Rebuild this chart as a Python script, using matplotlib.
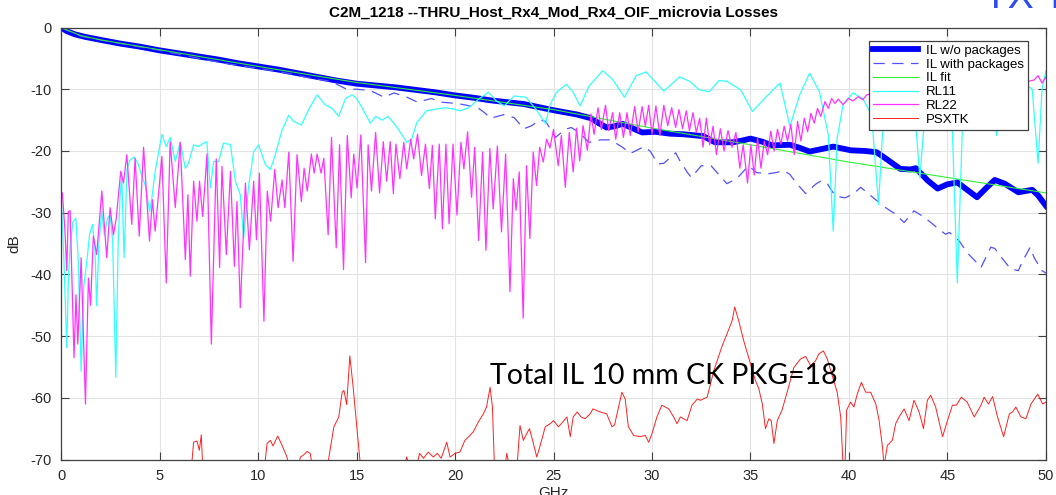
import matplotlib
matplotlib.use("Agg")
import matplotlib.pyplot as plt

plt.rcParams['font.family'] = ['Liberation Sans', 'DejaVu Sans']
plt.rcParams['axes.unicode_minus'] = False

# ---------------- data (GHz, dB) ----------------
# IL w/o packages (thick blue)
il_f = [0, 0.3, 0.7, 1.2, 2, 3, 4, 5, 6, 7, 8, 9, 10, 11, 12, 13, 14, 15, 16, 17, 18, 19,
        20, 21, 21.8, 23.5, 25, 26.2, 26.9, 27.3, 27.7, 28.1, 28.5, 29.0, 29.5, 30.2, 30.9,
        31.6, 32.6, 33.2, 34.1, 34.6, 35, 35.6, 36.1, 37, 37.5, 38, 38.6, 39.2, 40.1, 40.8,
        41.4, 41.9, 42.6, 43.1, 43.4, 44.0, 44.5, 45.0, 45.5, 46.0, 46.5, 47.0, 47.4, 47.9,
        48.6, 49.3, 49.6, 50]
il_db = [0, -0.6, -1.1, -1.5, -2.0, -2.6, -3.1, -3.7, -4.2, -4.7, -5.2, -5.8, -6.3, -6.8,
         -7.4, -8.0, -8.6, -9.1, -9.4, -9.7, -10.1, -10.5, -11.0, -11.4, -11.8, -12.4, -13.4,
         -14.1, -14.7, -15.5, -16.2, -16.0, -15.6, -16.3, -17.0, -16.9, -17.2, -17.3, -17.6,
         -18.6, -18.6, -18.3, -18.0, -18.5, -19.1, -19.0, -19.5, -20.1, -19.7, -19.3, -19.9,
         -20.0, -20.2, -21.3, -22.9, -23.0, -22.8, -24.8, -26.1, -25.4, -25.1, -26.3, -27.5,
         -25.9, -24.7, -25.3, -26.7, -26.3, -27.2, -28.9]

# IL with packages (dashed)
ilp_f = [0, 1, 3, 5, 7, 8.5, 10, 11.5, 12.5, 13.5, 14, 14.5, 15.0, 15.7, 16.4, 16.9, 17.5,
         18.1, 18.8, 19.3, 20.1, 20.6, 21.2, 21.5, 21.8, 22.5, 23.0, 23.5, 23.9, 24.3, 24.6,
         25.1, 25.6, 25.9, 26.3, 26.8, 27.4, 27.9, 28.5, 28.9, 29.6, 29.9, 30.3, 30.6, 31.2,
         31.4, 31.8, 32.0, 32.5, 33.0, 33.3, 33.8, 34.3, 34.9, 35.3, 35.9, 36.3, 36.7, 37.0,
         37.3, 37.8, 38.3, 38.6, 38.9, 39.3, 39.8, 40.2, 40.6, 41.2, 41.7, 42.0, 42.3, 42.8,
         43.3, 43.7, 44.0, 44.5, 44.9, 45.1, 45.6, 46.0, 46.4, 46.7, 47.2, 47.4, 47.8, 48.2,
         48.6, 48.8, 49.2, 49.4, 49.8, 50]
ilp_db = [0, -1.4, -2.6, -3.7, -5.0, -5.9, -6.6, -7.4, -8.1, -8.6, -9.2, -10.0, -10.0, -10.2,
          -11.3, -10.6, -11.2, -12.1, -11.5, -12.1, -12.3, -12.6, -13.1, -13.8, -14.7, -14.1,
          -14.6, -16.4, -15.9, -15.0, -15.2, -17.8, -16.5, -16.2, -17.0, -18.6, -18.2, -18.2,
          -19.4, -20.4, -19.3, -20.0, -22.1, -22.0, -20.3, -21.5, -23.5, -24.3, -22.4, -22.4,
          -23.5, -25.3, -24.5, -22.4, -23.5, -23.7, -23.5, -23.2, -23.8, -25.1, -26.9, -25.4,
          -24.8, -25.3, -27.3, -27.6, -27.0, -25.9, -27.5, -28.8, -29.5, -30.1, -31.6, -29.7,
          -30.5, -31.2, -32.5, -33.5, -33.2, -34.6, -36.5, -37.8, -38.9, -35.6, -35.8, -37.5,
          -39.1, -39.4, -37.9, -35.6, -37.3, -39.4, -39.8]

# IL fit (green)
fit_f = [0, 1, 2, 5, 10, 15, 20, 25, 30, 35, 40, 45, 50]
fit_db = [0, -1.3, -2.0, -3.6, -6.3, -8.9, -11.0, -13.3, -16.3, -19.0, -21.8, -24.3, -26.8]

# RL11 (cyan)
rl11_f = [0, 0.15, 0.29, 0.38, 0.46, 0.6, 0.75, 0.88, 1.02, 1.15, 1.31, 1.45, 1.6, 1.72,
          1.81, 1.92, 2.07, 2.2, 2.35, 2.49, 2.62, 2.78, 2.9, 3.0, 3.08, 3.2, 3.35, 3.5, 3.7,
          3.9, 4.1, 4.27, 4.5, 4.6, 4.78, 5.12, 5.34, 5.54, 5.8, 6.05, 6.31, 6.47, 6.73, 6.98,
          7.2, 7.4, 7.58, 7.75, 8.0, 8.25, 8.6, 8.85, 9.1, 9.27, 9.53, 9.78, 10.03, 10.37,
          10.63, 10.88, 11.2, 11.56, 11.8, 12.2, 12.6, 13.0, 13.4, 13.76, 14.1, 14.44, 14.78,
          15.0, 15.3, 15.7, 15.97, 16.3, 16.6, 17.0, 17.55, 17.8, 18.06, 18.56, 19.07, 19.5,
          19.9, 20.25, 20.7, 21.2, 21.7, 22.1, 22.5, 23.0, 23.6, 24.1, 24.6, 24.8, 25.15,
          25.66, 26.0, 26.35, 26.8, 27.5, 28.0, 28.6, 29.2, 29.7, 30.2, 30.6, 31.4, 31.9,
          32.4, 32.9, 33.4, 33.8, 34.5, 35.1, 35.8, 36.5, 37.0, 37.5, 38.0, 38.5, 38.95,
          39.2, 39.4, 39.7, 40.2, 40.7, 41.15, 41.5, 41.7, 42.0, 42.8, 43.3, 43.6, 43.9,
          44.5, 45.2, 45.5, 45.8, 46.5, 47.2, 47.5, 47.8, 48.5, 49.3, 49.6, 49.8, 50]
rl11_db = [-27, -38, -51.9, -40, -35.7, -31.5, -30.9, -38, -55.7, -42, -37.9, -33.5, -31.9,
           -36, -45.1, -35, -29.8, -33.6, -31, -30.3, -34.6, -56.7, -35, -27.1, -23.9, -37.3,
           -23, -21.5, -21, -22, -24, -25.5, -29.8, -27.9, -23.3, -17.3, -19.3, -17.8, -21.7,
           -18.6, -22.8, -22.0, -19.0, -19.3, -18.8, -18.5, -26.0, -21.7, -21.7, -18.7, -19.0,
           -24.9, -27.1, -34.1, -25.5, -20.1, -19.0, -22.2, -23.0, -20.6, -16.8, -14.2, -15.2,
           -15.8, -13.1, -10.9, -12.5, -13.1, -14.4, -11.5, -10.9, -11.5, -13.1, -15.5, -14.4,
           -15.0, -14.4, -15.9, -18.6, -18.1, -15.4, -13.5, -13.2, -13.0, -13.2, -13.5, -13.0,
           -11.6, -10.5, -11.9, -12.7, -11.1, -11.3, -13.2, -15.6, -12.7, -10.5, -9.2, -10.5,
           -12.7, -9.5, -7.0, -8.4, -11.3, -7.8, -7.2, -8.9, -10.3, -8.0, -8.7, -10.1, -10.4,
           -8.6, -8.7, -10.1, -13.6, -11.2, -9.0, -16.0, -10.9, -7.4, -10.4, -17.4, -33.0,
           -17.9, -12.5, -10.6, -11.5, -14.2, -28.7, -17.4, -10, -9, -12, -24.4, -12, -9, -12,
           -41.4, -12, -9, -10, -17.5, -10, -8, -10, -22.0, -10, -7]

# RL22 (magenta)
rl22_f = [0, 0.07, 0.2, 0.29, 0.37, 0.46, 0.66, 0.76, 0.85, 1.02, 1.24, 1.39, 1.5, 1.64,
          1.81, 2.07, 2.32, 2.49, 2.66, 2.8, 3.03, 3.17, 3.34, 3.59, 3.76, 3.97, 4.19, 4.49,
          4.64, 4.78, 5.12, 5.34, 5.54, 5.8, 6.05, 6.31, 6.44, 6.56, 6.73, 6.9, 7.03, 7.19,
          7.41, 7.63, 7.88, 8.05, 8.17, 8.39, 8.6, 8.8, 8.93, 9.1, 9.36, 9.56, 9.78, 9.92,
          10.07, 10.3, 10.47, 10.64, 10.85, 11.02, 11.22, 11.36, 11.56, 11.78, 11.98, 12.2,
          12.34, 12.5, 12.71, 12.85, 13.0, 13.2, 13.34, 13.56, 13.73, 13.97, 14.14, 14.34,
          14.53, 14.73, 14.86, 15.03, 15.22, 15.46, 15.59, 15.76, 15.97, 16.17, 16.36, 16.53,
          16.71, 16.87, 17.0, 17.2, 17.4, 17.55, 17.75, 17.9, 18.1, 18.3, 18.5, 18.7, 18.85,
          19.0, 19.2, 19.36, 19.54, 19.7, 19.9, 20.1, 20.3, 20.45, 20.64, 20.84, 21.0, 21.2,
          21.4, 21.57, 21.77, 21.94, 22.15, 22.36, 22.57, 22.79, 22.96, 23.1, 23.26, 23.46,
          23.63, 23.8, 23.97, 24.14, 24.3, 24.48, 24.65, 24.82, 25.0, 25.24, 25.4, 25.6, 25.8,
          26.0, 26.17, 26.33, 26.5, 26.72, 26.9, 27.06, 27.26, 27.43, 27.64, 27.8, 28.0,
          28.16, 28.36, 28.55, 28.73, 28.9, 29.12, 29.3, 29.5, 29.66, 29.83, 30.0, 30.2, 30.4,
          30.6, 30.8, 31.0, 31.2, 31.37, 31.55, 31.74, 31.9, 32.08, 32.25, 32.42, 32.59,
          32.76, 32.93, 33.1, 33.27, 33.47, 33.66, 33.86, 34.06, 34.26, 34.46, 34.63, 34.85,
          35.02, 35.19, 35.36, 35.53, 35.7, 35.87, 36.03, 36.2, 36.37, 36.54, 36.71, 36.88,
          37.05, 37.22, 37.39, 37.56, 37.73, 37.9, 38.07, 38.24, 38.4, 38.57, 38.78, 38.95,
          39.12, 39.29, 39.46, 39.7, 39.97, 40.2, 40.47, 40.7, 40.9, 41.5, 42, 42.5, 43, 43.5,
          44, 44.5, 45, 45.5, 46, 46.5, 47, 47.5, 48, 48.5, 49, 49.4, 49.6, 49.8, 50]
rl22_db = [-27, -26.8, -33, -39.4, -29.8, -29.7, -53.5, -43.3, -51.3, -37.3, -61.0, -40.6,
           -45, -33.8, -36.8, -26.5, -37.3, -29.2, -33.6, -31, -23.3, -25.2, -20.6, -31.9,
           -21.2, -33.8, -19.4, -34.6, -27.9, -33.0, -20.9, -41.4, -18.5, -29.2, -18.6, -37.6,
           -27.1, -40.3, -24.9, -31.4, -24.9, -30.6, -20.5, -51.3, -21.3, -38.9, -22.5, -36.8,
           -23.3, -38.7, -28.2, -45.4, -25.2, -36.0, -24.9, -34.4, -23.6, -47.6, -26.5, -31.4,
           -23.0, -29.2, -24.7, -29.2, -20.2, -37.9, -20.6, -28.2, -22.8, -26.5, -20.5, -23.6,
           -20.5, -23.6, -21.2, -33.6, -17.8, -35.7, -19.0, -39.2, -17.5, -27.6, -20.5, -26,
           -17.4, -38.1, -19.0, -26.5, -17.0, -26.8, -18.5, -24.9, -18.5, -26.9, -18.9, -24.5,
           -18.6, -22.9, -18.1, -21.3, -17.3, -24.0, -18.9, -26.1, -19.1, -31.0, -18.9, -32.6,
           -18.9, -31.8, -18.9, -30.4, -18.6, -22.9, -16.9, -27.5, -19.4, -34.5, -20.2, -36.1,
           -19.6, -29.4, -19.2, -33.1, -20.5, -42.8, -24.5, -29.6, -23.4, -47.1, -22.4, -34.2,
           -20.2, -25.6, -19.4, -21.8, -18.1, -19.5, -16.5, -22.4, -17.5, -25.9, -17.0, -23.4,
           -16.3, -21.6, -15.9, -19.9, -14.0, -17.3, -13.0, -16.5, -12.6, -16.7, -13.8, -18.1,
           -13.8, -17.8, -13.8, -17.5, -12.8, -16.9, -12.8, -16.0, -12.6, -17.3, -12.7, -17.5,
           -12.6, -15.9, -13.0, -16.2, -13.3, -16.4, -13.5, -16.7, -13.8, -17.0, -14.7, -19.4,
           -14.7, -19.0, -16.0, -20.6, -16.4, -20.0, -16.7, -19.4, -17.0, -22.8, -19.0, -25.2,
           -19.0, -23.9, -17.9, -22.8, -18.4, -20.6, -16.8, -20.0, -16.5, -18.9, -16.0, -18.4,
           -15.7, -20.6, -15.2, -18.4, -14.7, -16.9, -13.9, -15.5, -13.1, -14.4, -12.0, -13.1,
           -11.5, -12.3, -11.6, -12.5, -11.5, -11.9, -11.2, -11.7, -10.9, -10.5, -10.0, -10.3,
           -9.8, -10.1, -9.5, -9.9, -9.3, -9.6, -9.1, -9.4, -9.0, -9.2, -8.8, -9.0, -8.8,
           -8.5, -7.8, -9.0, -8.0]

# PSXTK (red); values under -70 are below the axis floor
xt_f = [0, 6.6, 6.73, 6.9, 7.02, 7.12, 7.2, 10.3, 10.46, 10.63, 10.76, 11.0, 11.22, 11.47,
        11.6, 12.0, 12.15, 12.3, 12.49, 12.65, 12.8, 13.5, 13.6, 13.85, 14.1, 14.27, 14.36,
        14.5, 14.66, 14.83, 15.03, 15.2, 17.4, 17.54, 17.7, 18.0, 18.2, 18.4, 18.64, 18.9,
        19.1, 19.3, 19.58, 19.75, 20.0, 20.25, 20.5, 20.76, 20.93, 21.19, 21.44, 21.6,
        21.78, 21.9, 22.0, 22.5, 22.63, 22.75, 23.15, 23.3, 23.47, 23.64, 23.78, 23.98,
        24.15, 24.3, 24.58, 24.83, 25.0, 25.25, 25.45, 25.68, 25.85, 26.0, 26.2, 26.4, 26.6,
        26.86, 27.0, 27.37, 27.7, 27.97, 28.1, 28.3, 28.47, 28.64, 28.8, 29.07, 29.4, 29.66,
        29.83, 30.0, 30.25, 30.5, 30.85, 31.1, 31.27, 31.44, 31.6, 31.78, 32.03, 32.3, 32.46,
        32.8, 33.14, 33.56, 33.8, 34.07, 34.2, 34.4, 34.66, 34.9, 35.25, 35.42, 35.6, 35.76,
        35.93, 36.05, 36.19, 36.36, 36.6, 36.86, 37.2, 37.54, 37.8, 38.05, 38.3, 38.47,
        38.7, 38.9, 39.15, 39.4, 39.58, 39.7, 39.8, 39.88, 40.08, 40.25, 40.42, 40.63, 40.85,
        41.1, 41.36, 41.53, 41.7, 41.78, 41.95, 42.2, 42.37, 42.54, 42.8, 43.05, 43.3,
        43.56, 43.78, 43.98, 44.15, 44.4, 44.75, 45.0, 45.25, 45.45, 45.7, 46.0, 46.36,
        46.7, 46.86, 47.08, 47.29, 47.54, 47.85, 48.14, 48.3, 48.47, 48.73, 48.98, 49.24,
        49.58, 49.83, 50]
xt_db = [-80, -72, -67.2, -67.0, -68.5, -66.0, -72, -72, -67.4, -66.9, -67.8, -66.2, -67.7,
         -69.6, -72, -72, -69.6, -69.3, -68.7, -69.0, -72, -72, -69.6, -64.7, -63.1, -59.1,
         -58.8, -61.1, -53.2, -58.3, -65.3, -71, -72, -69.6, -71, -72, -69.0, -69.8, -68.8,
         -69.6, -69.0, -69.8, -67.2, -69.6, -69.0, -68.8, -66.9, -66.1, -65.5, -63.9, -62.6,
         -61.5, -58.3, -61.5, -71, -72, -69.0, -71, -71, -64.5, -66.9, -65.8, -65.0, -67.4,
         -69.6, -68.0, -64.7, -64.2, -63.7, -64.7, -64.0, -63.1, -66.3, -63.1, -62.3, -63.1,
         -63.4, -62.6, -61.8, -62.3, -62.6, -64.7, -64.4, -61.5, -59.1, -60.2, -64.7, -66.1,
         -66.3, -66.1, -67.2, -65.8, -63.1, -61.2, -61.8, -63.1, -64.2, -63.1, -63.4, -63.7,
         -61.2, -60.2, -60.4, -59.9, -55.6, -51.6, -49.7, -47.5, -45.3, -47.5, -50.8, -53.4,
         -57.2, -58.5, -61.0, -65.0, -63.4, -63.7, -67.4, -63.7, -62.0, -59.1, -55.1, -53.7,
         -53.3, -54.8, -54.0, -52.9, -52.4, -53.7, -56.4, -59.1, -63.1, -71, -71, -62.0,
         -60.7, -61.5, -59.4, -57.5, -59.1, -59.1, -61.0, -63.7, -68.0, -71, -67.7, -66.9,
         -64.2, -63.1, -61.8, -63.7, -60.4, -62.3, -65.0, -60.4, -59.6, -61.5, -66.3, -63.7,
         -61.2, -61.2, -59.9, -60.7, -63.1, -61.2, -59.9, -61.0, -59.8, -63.1, -66.3, -62.6,
         -62.3, -61.5, -63.1, -63.4, -61.0, -59.4, -61.0, -60.7]

x_ticks = [0, 5, 10, 15, 20, 25, 30, 35, 40, 45, 50]
y_ticks = [0, -10, -20, -30, -40, -50, -60, -70]

# ---------------- figure ----------------
fig = plt.figure(figsize=(10.56, 4.95), dpi=100)
ax = fig.add_axes([0.0578, 0.0717, 0.9327, 0.8727])

ax.plot(il_f, il_db, color='#0000ff', lw=4.2, label='IL w/o packages',
        solid_joinstyle='round')
ax.plot(ilp_f, ilp_db, color='#5050ff', lw=0.9, dashes=(9, 6), label='IL with packages')
ax.plot(fit_f, fit_db, color='#33ee33', lw=0.8, label='IL fit')
ax.plot(rl11_f, rl11_db, color='#33ffff', lw=0.9, label='RL11')
ax.plot(rl22_f, rl22_db, color='#ff33ff', lw=0.9, label='RL22')
ax.plot(xt_f, xt_db, color='#ff2020', lw=0.7, label='PSXTK')

ax.set_xlim(0, 50)
ax.set_ylim(-70, 0)
ax.set_xticks(x_ticks)
ax.set_yticks(y_ticks)
ax.grid(True, color='#e3e3e3', lw=0.8)
ax.set_axisbelow(True)
ax.tick_params(direction='in', length=5.5, width=0.8, color='#404040',
               labelsize=10.5, labelcolor='#262626', top=True, right=True)
ax.tick_params(axis='x', pad=7)
ax.tick_params(axis='y', pad=7)
for s in ax.spines.values():
    s.set_color('#404040')
    s.set_linewidth(0.9)

ax.set_title('C2M_1218 --THRU_Host_Rx4_Mod_Rx4_OIF_microvia Losses',
             fontsize=11, fontweight='bold', pad=8)
ax.set_ylabel('dB', fontsize=11, color='#262626', labelpad=6)
ax.set_xlabel('GHz', fontsize=11, color='#262626', labelpad=2)

leg = ax.legend(loc='upper right', bbox_to_anchor=(0.988, 0.985), fontsize=9.5,
                fancybox=False, framealpha=1, edgecolor='#404040', handlelength=3.4,
                borderpad=0.3, labelspacing=0.12, handletextpad=0.6)
leg.get_frame().set_linewidth(0.9)

ax.text(21.8, -57.7, 'Total IL 10 mm CK PKG=18', fontsize=20.5, family='Lato',
        color='black')

# partly visible blue heading above the figure
fig.text(984 / 1056, 1 - 8 / 495, 'TX TI', fontsize=28, color='#2c4cf0',
         ha='left', va='baseline')

fig.savefig('out.png', dpi=100)
